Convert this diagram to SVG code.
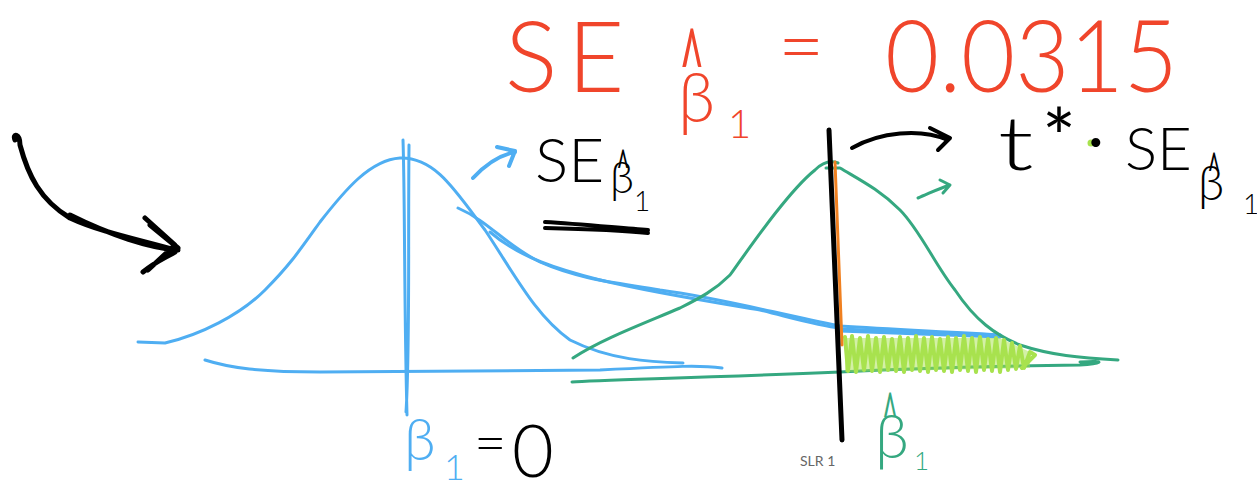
<svg xmlns="http://www.w3.org/2000/svg" width="1257" height="480" viewBox="0 0 1257 480">
<style>
.s{fill:none;stroke-linecap:round;stroke-linejoin:round}
.k{stroke:#000}
.b{stroke:#4faef2}
.g{stroke:#35a880}
.t{font-family:Lato,"Liberation Sans",sans-serif;font-weight:300}
.h{font-weight:400}
.red{fill:#f0452b}
.blk{fill:#000}
.blu{fill:#4faef2}
.grn{fill:#35a880}
</style>
<rect width="1257" height="480" fill="#fff"/>
<g id="null-distribution">
<path class="s b" stroke-width="3" d="M138,342 L165,343 C200,335 240,315 265,290 C290,265 300,250 320,222 C345,190 370,160 400,158 C435,157 455,190 485,230 C515,275 535,315 570,340 C610,360 650,362 683,363"/>
<path class="s b" stroke-width="3" d="M458,208 C490,222 505,245 540,262 C580,280 620,283 660,290 C720,298 770,312 840,326 C900,330 960,332 1000,335"/>
<path class="s b" stroke-width="3" d="M490,232 C520,258 560,270 600,280 C650,292 700,300 760,310 C800,320 820,326 840,328"/>
<path class="s b" stroke-width="5" d="M840,330 C900,332 960,334 1000,336"/>
<path class="s b" stroke-width="3" d="M205,360 C230,368 260,372 320,372 L600,370 C680,366 700,365 722,368"/>
<path class="s b" stroke-width="3" d="M403,140 C405,200 404,300 407,415 M409,145 C408,250 410,350 406,412"/>
</g>
<g id="alt-distribution">
<path class="s g" stroke-width="3" d="M573,358 C600,340 640,325 680,308 C700,298 715,290 730,275 C755,240 790,190 815,170 C822,163 830,160 838,163 M826,168 L840,168 M840,168 C860,180 880,190 900,210 C920,230 935,265 955,290 C975,320 995,335 1020,345 C1050,355 1080,358 1118,360"/>
<path class="s g" stroke-width="3" d="M572,382 C600,380 700,378 840,372 C900,369 1000,366 1080,365 C1100,364 1110,360 1080,362"/>
</g>
<g id="shaded-area">
<polygon points="845,338 1000,338 1030,352 1030,368 845,372" fill="#a8e24e" opacity="0.5"/>
<polyline class="s" stroke="#a8e24e" stroke-width="4" points="845,337 848,371 852,336 856,372 860,338 864,370 868,336 872,371 876,338 880,372 884,337 888,370 892,339 896,371 900,337 904,372 908,338 912,370 916,336 920,371 924,338 928,372 932,337 936,370 940,339 944,371 948,337 952,372 956,338 960,370 964,336 968,371 972,338 976,372 980,337 984,370 988,339 992,371 996,338 1000,372 1004,340 1008,370 1012,343 1016,369 1020,346 1024,368 1030,352 1035,355 1022,368"/>
</g>
<g id="critical-line">
<path class="s" stroke="#f08020" stroke-width="3" d="M835,162 L842,345"/>
<path class="s k" stroke-width="5" d="M829,130 L842,440"/>
</g>
<g id="connectors">
<path class="s k" stroke-width="5" d="M15,140 C12,133 20,133 20,145 C28,175 40,200 70,218 C100,232 140,240 175,250 M70,215 C110,235 150,248 178,250 M145,218 L175,245 L148,270 M150,225 L178,248 M143,272 C155,262 165,258 175,252"/>
<path class="s k" stroke-width="4" d="M852,148 C880,132 920,128 948,140 M930,128 L950,138 L938,150"/>
<path class="s b" stroke-width="4" d="M473,178 C485,165 500,155 515,152 M497,147 L515,151 L509,166"/>
<path class="s g" stroke-width="3" d="M918,198 C930,193 940,188 950,185 M940,180 L950,185 L943,193"/>
<path class="s k" stroke-width="4" d="M545,222 C580,224 620,228 648,230 M545,228 C590,229 620,230 648,233"/>
</g>
<g id="se-value" class="t red">
<text x="505" y="92" font-size="98" letter-spacing="10">SE</text>
<text class="h" transform="translate(692,104) scale(0.45,1.1)" text-anchor="middle" font-size="95">^</text>
<text x="678" y="122" font-size="68">β</text>
<text x="728" y="138" font-size="40">1</text>
<text x="778" y="75" font-size="80">=</text>
<text x="885" y="92" font-size="100" textLength="293" lengthAdjust="spacingAndGlyphs">0.0315</text>
</g>
<g id="se-label" class="t blk">
<text x="535" y="182" font-size="62">SE</text>
<text class="h" transform="translate(623,186) scale(0.45,1.0)" text-anchor="middle" font-size="50">^</text>
<text x="610" y="193" font-size="44">β</text>
<text x="634" y="211" font-size="28">1</text>
</g>
<g id="t-star-label" class="t blk">
<text transform="translate(998,170) scale(1.4,1)" font-size="74">t</text>
<text class="h" x="1042" y="166" font-size="80">*</text>
<circle cx="1091" cy="143" r="3.5" fill="#a8e24e"/>
<text class="h" x="1088" y="160" font-size="60">·</text>
<text x="1125" y="170" font-size="60">SE</text>
<text class="h" transform="translate(1214,189) scale(0.45,1.0)" text-anchor="middle" font-size="50">^</text>
<text x="1198" y="200" font-size="48">β</text>
<text x="1243" y="214" font-size="28">1</text>
</g>
<g id="beta-null" class="t">
<text x="404" y="460" font-size="58" class="blu">β</text>
<text x="444" y="480" font-size="36" class="blu">1</text>
<text x="474" y="462" font-size="56" class="blk">=</text>
<text x="512" y="477" font-size="72" class="blk">0</text>
</g>
<g id="beta-hat" class="t grn">
<text class="h" transform="translate(890,440) scale(0.45,1.1)" text-anchor="middle" font-size="60">^</text>
<text x="875" y="458" font-size="62">β</text>
<text x="914" y="470" font-size="26">1</text>
</g>
<g id="slide-label">
<text x="800" y="466" font-family="Lato,'Liberation Sans',sans-serif" font-size="14" fill="#666">SLR 1</text>
</g>
</svg>
